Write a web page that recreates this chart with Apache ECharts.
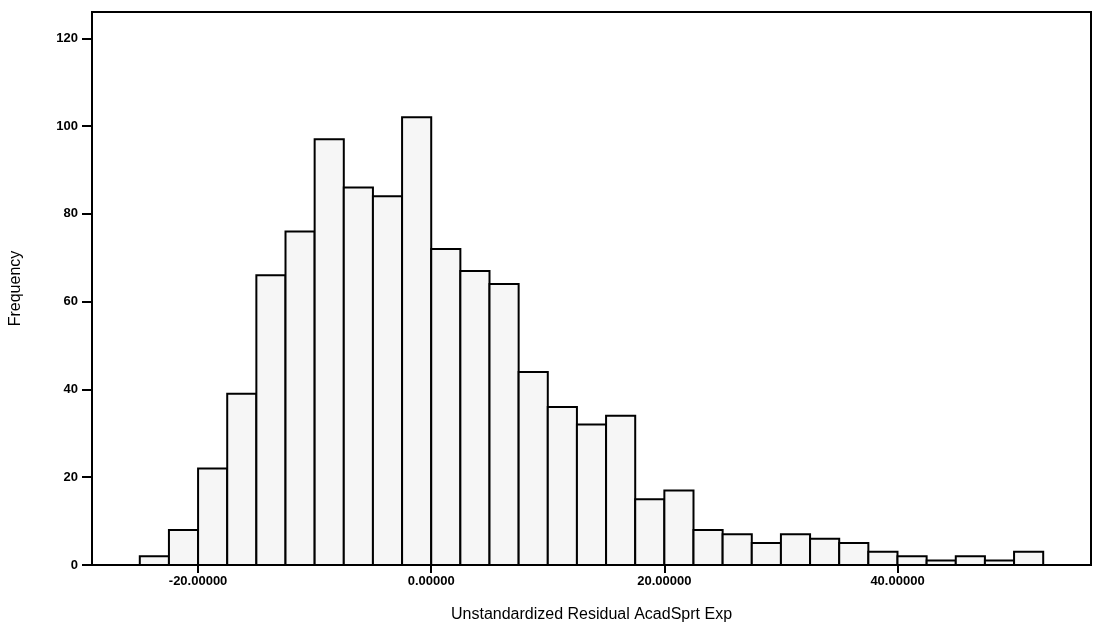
<!DOCTYPE html>
<html>
<head>
<meta charset="utf-8">
<script src="https://cdn.jsdelivr.net/npm/echarts@6/dist/echarts.min.js"></script>
<style>
html,body{margin:0;padding:0;background:#fff;}
#chart{width:1095px;height:628px;}
</style>
</head>
<body>
<div id="chart"></div>
<script>
// Histogram bins: start of each bin (width 2.5) and frequency
var binWidth = 2.5;
var binStarts = [-25, -22.5, -20, -17.5, -15, -12.5, -10, -7.5, -5, -2.5, 0, 2.5, 5, 7.5, 10, 12.5, 15, 17.5, 20, 22.5, 25, 27.5, 30, 32.5, 35, 37.5, 40, 42.5, 45, 47.5, 50];
var counts    = [2, 8, 22, 39, 66, 76, 97, 86, 84, 102, 72, 67, 64, 44, 36, 32, 34, 15, 17, 8, 7, 5, 7, 6, 5, 3, 2, 1, 2, 1, 3];
var xTicks = [-20, 0, 20, 40];
var yTicks = [0, 20, 40, 60, 80, 100, 120];

var data = binStarts.map(function (s, i) { return [s, s + binWidth, counts[i]]; });

var chart = echarts.init(document.getElementById('chart'));
chart.setOption({
  animation: false,
  backgroundColor: '#ffffff',
  grid: {
    left: 90, right: 4, top: 12, bottom: 61,
    show: true, borderColor: '#000', borderWidth: 2, backgroundColor: 'transparent'
  },
  xAxis: {
    type: 'value',
    min: -29.1, max: 56.6,
    name: 'Unstandardized Residual AcadSprt Exp',
    nameLocation: 'middle',
    nameGap: 42,
    nameTextStyle: { fontFamily: 'Liberation Sans, Arial, sans-serif', fontSize: 16, color: '#000' },
    axisLine: { show: true, onZero: false, lineStyle: { color: '#000', width: 2 } },
    axisTick: { show: true, length: 8, customValues: xTicks, lineStyle: { color: '#000', width: 2 } },
    axisLabel: {
      customValues: xTicks,
      margin: 10,
      fontFamily: 'Liberation Sans, Arial, sans-serif', fontSize: 13, fontWeight: 'bold', color: '#000',
      formatter: function (v) { return v.toFixed(5); }
    },
    splitLine: { show: false }
  },
  yAxis: {
    type: 'value',
    min: 0, max: 126,
    name: 'Frequency',
    nameLocation: 'middle',
    nameGap: 68,
    nameTextStyle: { fontFamily: 'Liberation Sans, Arial, sans-serif', fontSize: 16, color: '#000' },
    axisLine: { show: true, onZero: false, lineStyle: { color: '#000', width: 2 } },
    axisTick: { show: true, length: 10, customValues: yTicks, lineStyle: { color: '#000', width: 2 } },
    axisLabel: {
      customValues: yTicks,
      margin: 14,
      fontFamily: 'Liberation Sans, Arial, sans-serif', fontSize: 13, fontWeight: 'bold', color: '#000'
    },
    splitLine: { show: false }
  },
  series: [{
    type: 'custom',
    data: data,
    encode: { x: [0, 1], y: 2 },
    renderItem: function (params, api) {
      var p0 = api.coord([api.value(0), 0]);
      var p1 = api.coord([api.value(1), api.value(2)]);
      return {
        type: 'rect',
        shape: { x: p0[0], y: p1[1], width: p1[0] - p0[0], height: p0[1] - p1[1] },
        style: { fill: '#f6f6f6', stroke: '#000', lineWidth: 2 }
      };
    }
  }]
});
</script>
</body>
</html>
